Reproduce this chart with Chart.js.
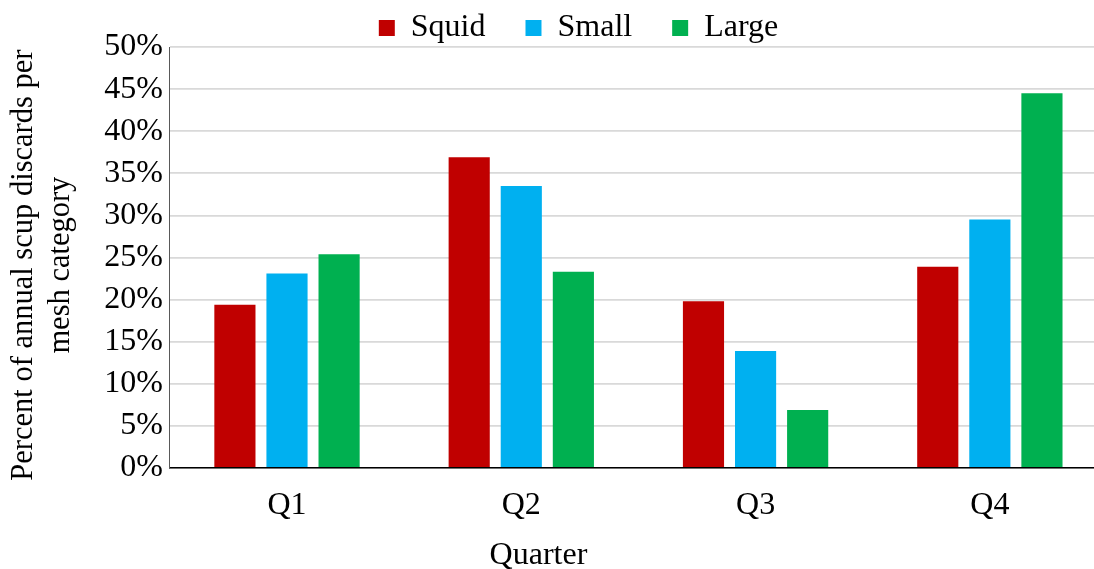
<!DOCTYPE html>
<html>
<head>
<meta charset="utf-8">
<script src="https://cdn.jsdelivr.net/npm/chart.js@4"></script>
<style>
  html, body { margin: 0; padding: 0; background: #fff; overflow: hidden; }
  #wrap { width: 1108px; height: 569px; }
</style>
</head>
<body>
<div id="wrap"><canvas id="chart"></canvas></div>
<script>
// Quarters and the share of annual scup discards per mesh category (%)
const quarters = ['Q1', 'Q2', 'Q3', 'Q4'];
const squid = [19.4, 36.9, 19.8, 23.9];
const small = [23.1, 33.5, 13.9, 29.5];
const large = [25.4, 23.3, 6.9, 44.5];

const serif = '"Liberation Serif", "Times New Roman", serif';

// trailing blanks push the centred axis titles off the plot centre, as in the original
const pad = n => ' '.repeat(n);

// legend sits tight above the plot, a bit right of the canvas centre
const legendTweak = {
    id: 'legendTweak',
    afterInit(chart) {
        const lg = chart.legend;
        const fit = lg.fit;
        lg.fit = function () {
            fit.call(this);
            this.height = 47;
        };
    },
    afterLayout(chart) {
        const lg = chart.legend;
        lg.left += 22;
        lg.right += 22;
        lg.top += 4;
        lg.bottom += 4;
    }
};

const ctx = document.getElementById('chart').getContext('2d');
new Chart(ctx, {
    type: 'bar',
    data: {
        labels: quarters,
        datasets: [
            { label: 'Squid', data: squid, backgroundColor: '#C00000' },
            { label: 'Small', data: small, backgroundColor: '#00B0F0' },
            { label: 'Large', data: large, backgroundColor: '#00B050' }
        ]
    },
    plugins: [legendTweak],
    options: {
        responsive: true,
        maintainAspectRatio: false,
        animation: false,
        categoryPercentage: 0.667,
        barPercentage: 0.79,
        layout: { padding: { top: 0, left: 6, right: 1, bottom: -3 } },
        plugins: {
            legend: {
                position: 'top',
                labels: {
                    color: '#000',
                    font: { family: serif, size: 32, lineHeight: 1.2 },
                    boxWidth: 16,
                    boxHeight: 16,
                    padding: 8,
                    generateLabels(chart) {
                        const items = Chart.defaults.plugins.legend.labels.generateLabels(chart);
                        items.forEach((it, i) => {
                            if (i < items.length - 1) it.text = it.text + pad(4);
                        });
                        return items;
                    }
                }
            },
            tooltip: { enabled: false }
        },
        scales: {
            x: {
                grid: { display: false, drawTicks: false },
                border: { color: '#000', width: 1.5 },
                ticks: { color: '#000', font: { family: serif, size: 32, lineHeight: 1 }, padding: 22 },
                title: {
                    display: true,
                    text: 'Quarter' + pad(25),
                    color: '#000',
                    font: { family: serif, size: 32, lineHeight: 1 },
                    padding: { top: -4, bottom: 0 }
                }
            },
            y: {
                min: 0,
                max: 50,
                grid: { color: '#d9d9d9', lineWidth: 1.8, drawTicks: false },
                border: { color: '#595959', width: 1 },
                ticks: {
                    stepSize: 5,
                    color: '#000',
                    font: { family: serif, size: 32, lineHeight: 1 },
                    padding: 7,
                    callback: v => v + '%'
                },
                title: {
                    display: true,
                    text: ['Percent of annual scup discards per' + pad(2), 'mesh category' + pad(2)],
                    color: '#000',
                    font: { family: serif, size: 30.5, lineHeight: 1.2 },
                    padding: { top: 0, bottom: 18 }
                }
            }
        }
    }
});
</script>
</body>
</html>
